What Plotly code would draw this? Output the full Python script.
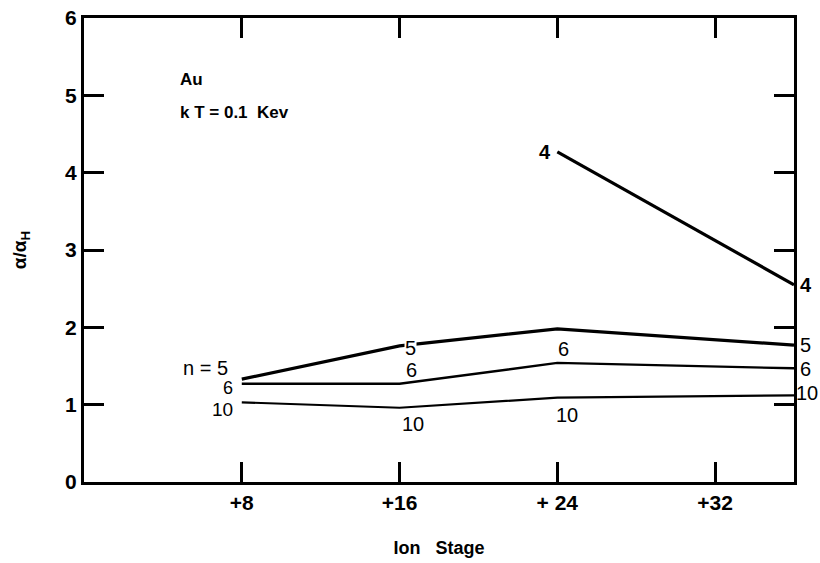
import plotly.graph_objects as go

# Data
stages = [8, 16, 24, 36]
n4_stages = [24, 36]
n4 = [4.27, 2.55]
n5 = [1.33, 1.76, 1.98, 1.77]
n6 = [1.27, 1.27, 1.54, 1.47]
n10 = [1.03, 0.96, 1.09, 1.12]
x_tickvals = [8, 16, 24, 32]
x_ticktext = ["+8", "+16", "+ 24", "+32"]
y_tickvals = [0, 1, 2, 3, 4, 5, 6]

FONT = "Liberation Sans"
fig = go.Figure()
for xs, ys, w in [(n4_stages, n4, 3.2), (stages, n5, 3.2), (stages, n6, 2.4), (stages, n10, 2.2)]:
    fig.add_trace(go.Scatter(x=xs, y=ys, mode="lines", line=dict(color="black", width=w),
                             showlegend=False, hoverinfo="skip"))

ann = []
def lab(x, y, text, xs=0, ys=0, bg=None, size=20):
    d = dict(x=x, y=y, text=text, showarrow=False, xshift=xs, yshift=ys,
             font=dict(family=FONT, size=size, color="black"))
    if bg:
        d["bgcolor"] = bg
        d["borderpad"] = 0
    ann.append(d)

# n=4
lab(n4_stages[0], n4[0], "<b>4</b>", xs=-12, ys=0)
lab(n4_stages[1], n4[1], "<b>4</b>", xs=12, ys=0)
# left labels
lab(stages[0], n5[0], "n = 5", xs=-36, ys=11)
lab(stages[0], n6[0], "6", xs=-14, ys=-4, size=18)
lab(stages[0], n10[0], "10", xs=-19, ys=-7, size=19)
# +16
lab(stages[1], n5[1], "5", xs=11, ys=-2, bg="white")
lab(stages[1], n6[1], "6", xs=12, ys=14)
lab(stages[1], n10[1], "10", xs=13, ys=-16)
# +24
lab(stages[2], n6[2], "6", xs=6, ys=14)
lab(stages[2], n10[2], "10", xs=10, ys=-17)
# right
lab(stages[3], n5[3], "5", xs=11, ys=0)
lab(stages[3], n6[3], "6", xs=11, ys=-1)
lab(stages[3], n10[3], "10", xs=13, ys=2)

# header text
ann.append(dict(xref="paper", yref="paper", x=0.133, y=0.893, xanchor="left", text="<b>Au</b>",
                showarrow=False, font=dict(family=FONT, size=17, color="black")))
ann.append(dict(xref="paper", yref="paper", x=0.133, y=0.822, xanchor="left", text="<b>k T = 0.1  Kev</b>",
                showarrow=False, font=dict(family=FONT, size=17, color="black")))

axis_common = dict(showline=True, linecolor="black", linewidth=3, mirror="ticks",
                   ticks="inside", ticklen=20, tickwidth=2.5, tickcolor="black",
                   showgrid=False, zeroline=False,
                   tickfont=dict(family=FONT, size=21, color="black"))

fig.update_layout(
    width=820, height=563,
    margin=dict(l=84, r=26, t=18, b=81),
    plot_bgcolor="white", paper_bgcolor="white",
    annotations=ann,
    xaxis=dict(range=[0, 36], tickvals=x_tickvals, ticktext=["<b>%s</b>" % t for t in x_ticktext],
               title=dict(text="<b>Ion   Stage</b>", font=dict(family=FONT, size=18, color="black"), standoff=29),
               automargin=False, **axis_common),
    yaxis=dict(range=[0, 6], tickvals=y_tickvals, ticktext=["<b>%d</b>" % v for v in y_tickvals],
               title=dict(text="<b>α/α<sub>H</sub></b>", font=dict(family=FONT, size=19, color="black"), standoff=34),
               automargin=False, **axis_common),
)
fig.write_html("out.html", config={"displayModeBar": False},
               post_script="document.body.style.margin='0';document.body.style.overflow='hidden';")
